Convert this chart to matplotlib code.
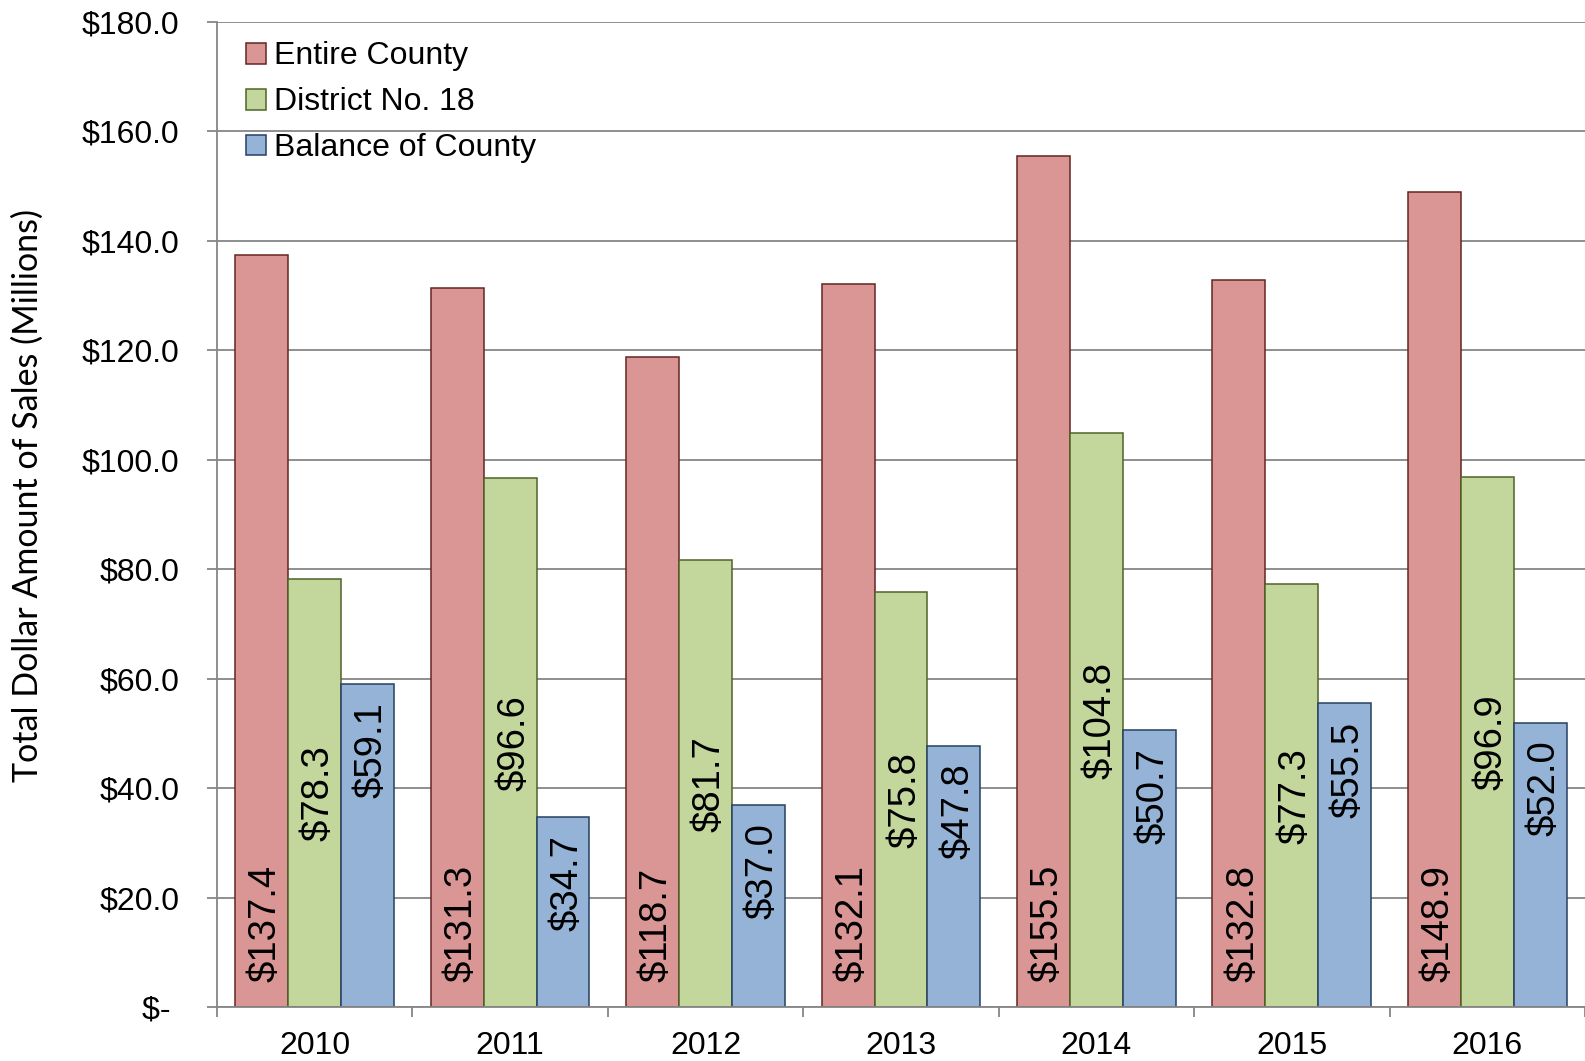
import matplotlib
matplotlib.use("Agg")
import matplotlib.pyplot as plt
import numpy as np

years = ["2010", "2011", "2012", "2013", "2014", "2015", "2016"]
entire_county = [137.4, 131.3, 118.7, 132.1, 155.5, 132.8, 148.9]
district_18 = [78.3, 96.6, 81.7, 75.8, 104.8, 77.3, 96.9]
balance_county = [59.1, 34.7, 37.0, 47.8, 50.7, 55.5, 52.0]

series_names = ["Entire County", "District No. 18", "Balance of County"]
fills = ["#D99694", "#C3D69B", "#95B3D7"]
edges = ["#632523", "#4F6228", "#254061"]

plt.rcParams["font.family"] = ["Liberation Sans", "DejaVu Sans"]

fig = plt.figure(figsize=(15.85, 10.61), dpi=100)
ax = fig.add_axes([0.1369, 0.0506, 0.8631, 0.9289])

x = np.arange(len(years))
w = 0.2707
grid_c = "#868686"

ax.set_axisbelow(True)
ax.yaxis.grid(True, color=grid_c, linewidth=1.3)

all_series = [entire_county, district_18, balance_county]
for i, vals in enumerate(all_series):
    ax.bar(x + (i - 1) * w, vals, w, color=fills[i], edgecolor=edges[i],
           linewidth=1.1, label=series_names[i])

# data labels: red at base, green centered, blue inside end
for xi, v in zip(x - w, entire_county):
    ax.annotate(f"${v:.1f}", (xi, 0), xytext=(3, 18), textcoords="offset points",
                rotation=90, ha="center", va="bottom", fontsize=27.5)
for xi, v in zip(x, district_18):
    ax.annotate(f"${v:.1f}", (xi, v / 2), xytext=(3, 0), textcoords="offset points",
                rotation=90, ha="center", va="center", fontsize=27.5)
for xi, v in zip(x + w, balance_county):
    ax.annotate(f"${v:.1f}", (xi, v), xytext=(3, -13), textcoords="offset points",
                rotation=90, ha="center", va="top", fontsize=27.5)

ax.set_xlim(-0.5, len(years) - 0.5)
ax.set_ylim(0, 180)
yt = np.arange(0, 181, 20)
ax.set_yticks(yt)
ax.set_yticklabels(["$- "] + [f"${t:.1f}" for t in yt[1:]])
ax.set_xticks(x)
ax.set_xticklabels(years)
ax.set_xticks(np.arange(-0.5, len(years), 1), minor=True)

ax.tick_params(axis="y", length=7, width=1.3, color=grid_c, pad=20, labelsize=23)
ax.tick_params(axis="x", which="major", length=0, pad=17, labelsize=23)
ax.tick_params(axis="x", which="minor", length=7, width=1.3, color=grid_c)

for s in ["top", "right"]:
    ax.spines[s].set_visible(False)
for s in ["left", "bottom"]:
    ax.spines[s].set_color(grid_c)
    ax.spines[s].set_linewidth(1.3)

fig.text(28 / 1585, 1 - 495 / 1061, "Total Dollar Amount of Sales (Millions)",
         rotation=90, ha="center", va="center", fontsize=24.5, family=["Lato", "DejaVu Sans"])

ax.legend(loc="upper left", bbox_to_anchor=(0.012, 0.993), frameon=False, fontsize=23,
          handlelength=0.62, handleheight=0.62, handletextpad=0.25, labelspacing=0.5,
          borderaxespad=0)

fig.savefig("out.png", dpi=100)
